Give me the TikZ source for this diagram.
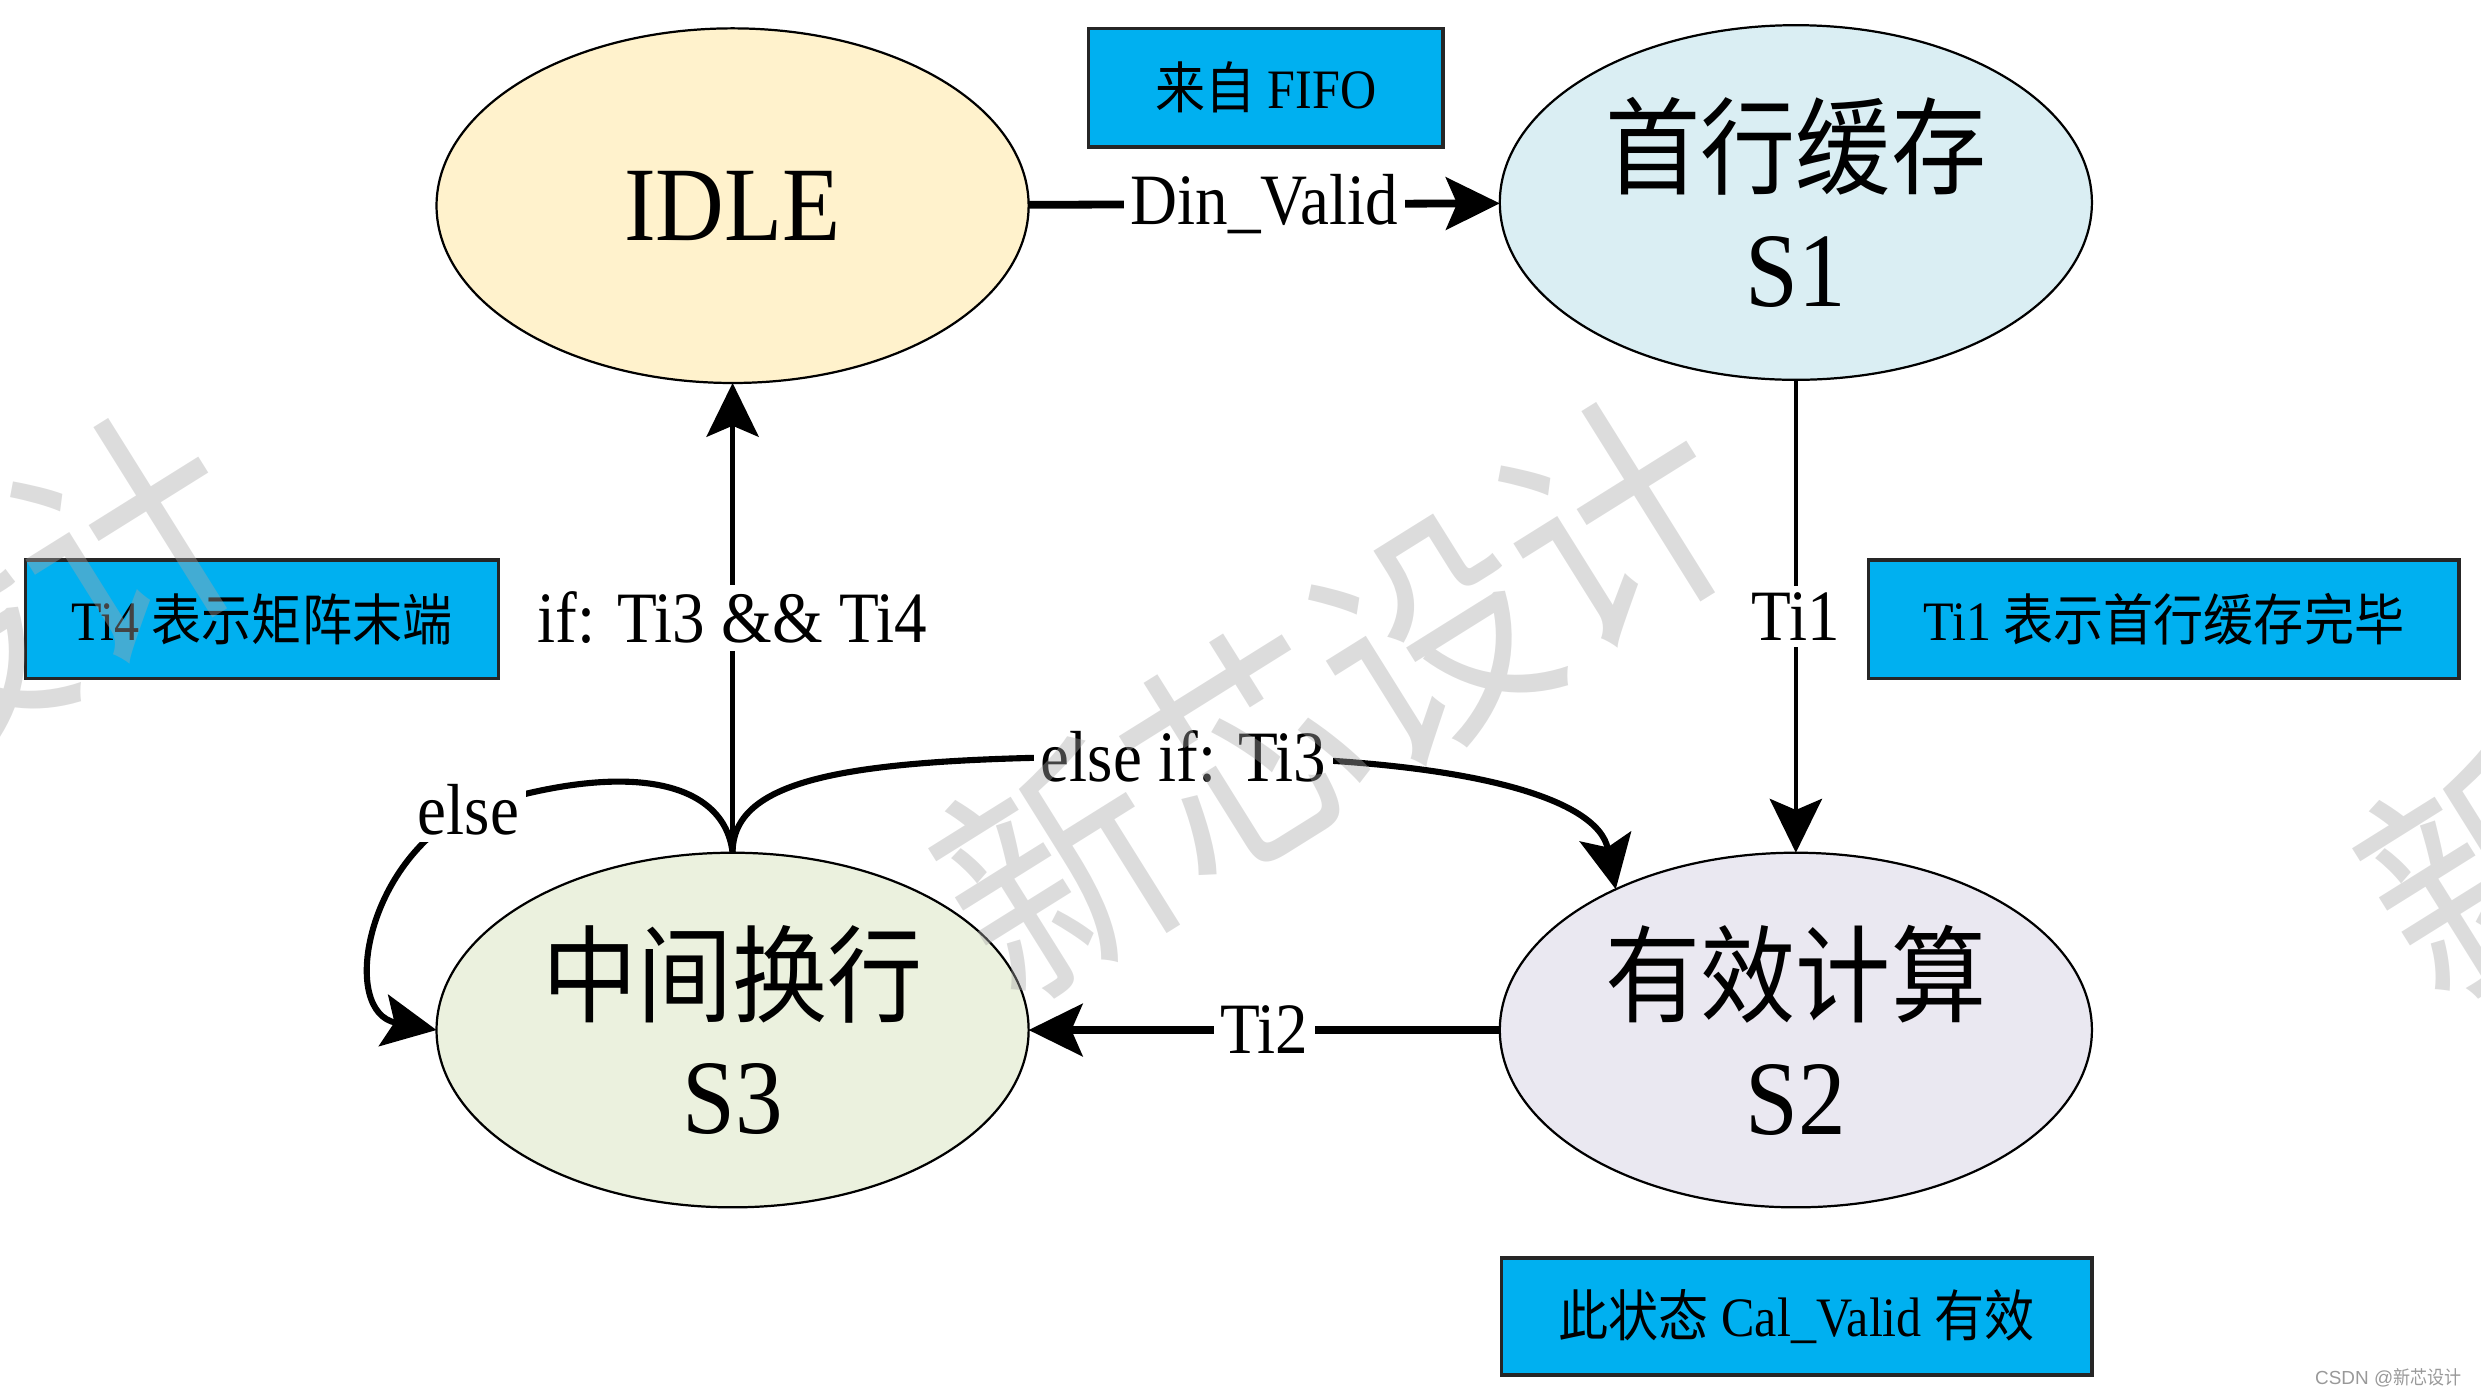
\documentclass[tikz,border=0pt]{standalone}
\usepackage{fontspec}
\setmainfont{Liberation Serif}[FakeStretch=0.9]
\newfontfamily\cjk{Noto Sans CJK SC}[FakeStretch=0.9]
\newfontfamily\marksans{Liberation Sans}
\usepackage{tikz}
\usetikzlibrary{shapes.geometric, arrows.meta}

\newcommand{\zh}[1]{{\cjk #1}}

\definecolor{idlefill}{HTML}{FFF2CC}
\definecolor{bufffill}{HTML}{DAEEF3}
\definecolor{swapfill}{HTML}{EBF1DE}
\definecolor{calcfill}{HTML}{EAE8F1}
\definecolor{notefill}{HTML}{00B0F0}
\definecolor{markgray}{HTML}{A8A8A8}

\tikzset{
  state/.style={ellipse, draw=black, line width=0.4pt, fill=#1, minimum width=3.74cm,
    minimum height=2.24cm, inner sep=0pt, outer sep=0pt, align=center,
    font=\fontsize{19}{21.5}\selectfont},
  note/.style={rectangle, draw=black!85, fill=notefill, line width=0.6pt, inner sep=0pt,
    minimum height=0.75cm, font=\fontsize{10}{12}\selectfont},
  lbl/.style={fill=white, inner sep=1.2pt, font=\fontsize{13}{15}\selectfont},
  tip/.style={-{Stealth[length=0.34cm, width=0.33cm, inset=0.07cm]}},
}

\begin{document}
\begin{tikzpicture}[x=0.01cm, y=-0.01cm, line width=0.8pt]
    \useasboundingbox (0, 0) rectangle (1568, 883);

    % draw states
    \node[state=idlefill] (IDLE) at (463, 130) {IDLE};
    \node[state=bufffill] (S1) at (1135, 128) {\zh{首行缓存}\\S1};
    \node[state=swapfill] (S3) at (463, 651) {\zh{中间换行}\\S3};
    \node[state=calcfill] (S2) at (1135, 651) {\zh{有效计算}\\S2};

    % draw notes
    \node[note, minimum width=2.24cm] (fifo) at (800, 55.5) {\zh{来自} FIFO};
    \node[note, minimum width=2.99cm] (ti4note) at (165.5, 391.5) {Ti4 \zh{表示矩阵末端}};
    \node[note, minimum width=3.73cm] (ti1note) at (1367.5, 391.5) {Ti1 \zh{表示首行缓存完毕}};
    \node[note, minimum width=3.73cm, minimum height=0.74cm] (calnote) at (1135.5, 832) {\zh{此状态} Cal\_Valid \zh{有效}};

    % draw straight transitions
    \draw[tip, line width=1.4pt] (IDLE) -- node[lbl] {Din\_Valid} (S1);
    \draw[tip] (S1) -- node[lbl] {Ti1} (S2);
    \draw[tip, line width=1.4pt] (S2) -- node[lbl] {Ti2} (S3);
    \draw[tip] (S3) -- node[lbl] {if: Ti3 \&\& Ti4} (IDLE);

    % draw curved transitions
    \draw[tip, line width=1.1pt] (S3.north) .. controls (463, 485) and (560, 478) .. (748, 478)
      node[lbl] {else if: Ti3} .. controls (930, 478) and (1010, 505) .. (S2.142);
    \draw[tip, line width=1.1pt] (S3.north) .. controls (458, 495) and (400, 478) .. (296, 512)
      node[lbl] {else} .. controls (230, 545) and (215, 640) .. (S3.west);

    % draw watermark
    \foreach \wx/\wy in {-95/450, 845/440, 1745/440}
      \node[text=markgray, fill opacity=0, text opacity=0.4, rotate=32,
        font=\cjk\fontsize{44}{44}\selectfont] at (\wx, \wy) {新芯设计};
    \node[anchor=east, text=black!40, inner sep=0pt, font=\marksans\fontsize{3.4}{4}\selectfont]
      (csdn) at (1557, 871) {CSDN @\zh{新芯设计}};
\end{tikzpicture}
\end{document}
